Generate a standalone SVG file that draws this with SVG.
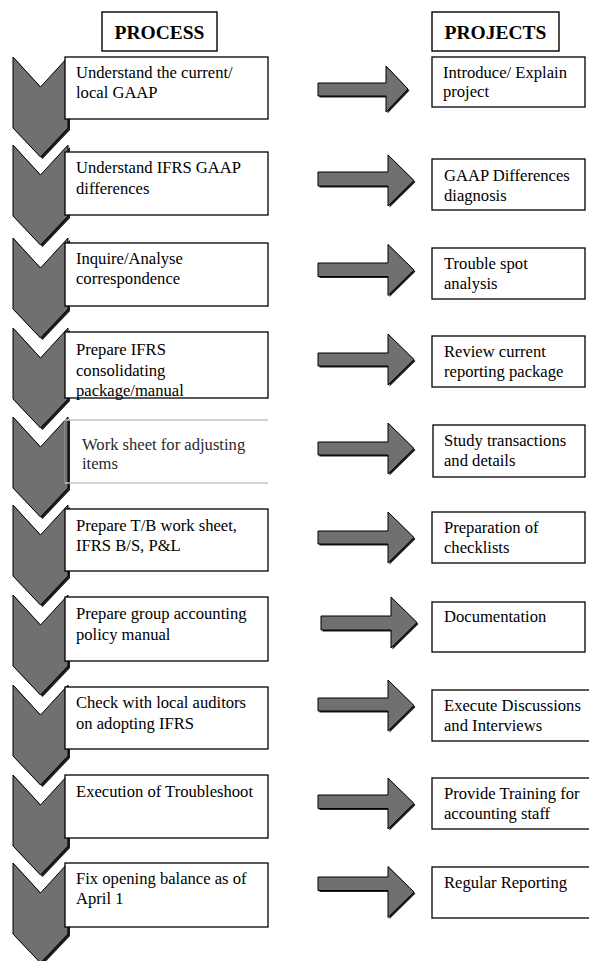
<svg xmlns="http://www.w3.org/2000/svg" width="589" height="961" viewBox="0 0 589 961">
<style>
.bg{fill:#ffffff}
.box{fill:#ffffff;stroke:#000000;stroke-width:1.3}
.hdr{fill:#ffffff;stroke:#000000;stroke-width:1.4}
.t{font-family:"Liberation Serif","Times New Roman",serif;font-size:16.6px;fill:#000000}
.t5{font-family:"Liberation Serif","Times New Roman",serif;font-size:16.6px;fill:#2a2a2a}
.h{font-family:"Liberation Serif","Times New Roman",serif;font-size:19.5px;font-weight:bold;fill:#000000;text-anchor:middle}
.shape{fill:#707070;stroke:#000000;stroke-width:1}
.shadow{fill:#1e1e1e}
.faint{stroke:#c4c4c4;stroke-width:1.3;fill:none}
</style>
<defs>
<path id="chev" d="M13,57 L40.5,87 L68,57 L68,128 L40.5,157 L13,128 Z"/>
</defs>
<rect class="bg" x="0" y="0" width="589" height="961"/>

<g id="header-process">
<rect class="hdr" x="102" y="12" width="115" height="39"/>
<text class="h" x="159.5" y="38.5">PROCESS</text>
</g>
<g id="header-projects">
<rect class="hdr" x="432" y="12" width="127" height="39"/>
<text class="h" x="495.5" y="38.5">PROJECTS</text>
</g>

<g id="chevrons">
<use href="#chev" class="shadow" transform="translate(2,2)"/><use href="#chev" class="shape"/>
<use href="#chev" class="shadow" transform="translate(2,90)"/><use href="#chev" class="shape" transform="translate(0,88)"/>
<use href="#chev" class="shadow" transform="translate(2,183)"/><use href="#chev" class="shape" transform="translate(0,181)"/>
<use href="#chev" class="shadow" transform="translate(2,273)"/><use href="#chev" class="shape" transform="translate(0,271)"/>
<use href="#chev" class="shadow" transform="translate(2,362)"/><use href="#chev" class="shape" transform="translate(0,360)"/>
<use href="#chev" class="shadow" transform="translate(2,450)"/><use href="#chev" class="shape" transform="translate(0,448)"/>
<use href="#chev" class="shadow" transform="translate(2,540)"/><use href="#chev" class="shape" transform="translate(0,538)"/>
<use href="#chev" class="shadow" transform="translate(2,630)"/><use href="#chev" class="shape" transform="translate(0,628)"/>
<use href="#chev" class="shadow" transform="translate(2,720)"/><use href="#chev" class="shape" transform="translate(0,718)"/>
<use href="#chev" class="shadow" transform="translate(2,808)"/><use href="#chev" class="shape" transform="translate(0,806)"/>
</g>

<g id="p1"><rect class="box" x="65" y="57" width="203" height="62"/>
<text class="t" x="76" y="77.5">Understand the current/</text><text class="t" x="76" y="98">local GAAP</text></g>
<g id="p2"><rect class="box" x="65" y="152" width="203" height="63"/>
<text class="t" x="76" y="173">Understand IFRS GAAP</text><text class="t" x="76" y="193.5">differences</text></g>
<g id="p3"><rect class="box" x="65" y="243" width="203" height="63"/>
<text class="t" x="76" y="263.5">Inquire/Analyse</text><text class="t" x="76" y="284">correspondence</text></g>
<g id="p4"><rect class="box" x="65" y="332" width="203" height="66"/>
<text class="t" x="76" y="355">Prepare IFRS</text><text class="t" x="76" y="375.5">consolidating</text><text class="t" x="76" y="396">package/manual</text></g>
<g id="p5">
<line class="faint" x1="65" y1="420" x2="268" y2="420"/>
<line class="faint" x1="65" y1="483" x2="268" y2="483"/>
<line x1="64.5" y1="420" x2="64.5" y2="483" stroke="#8a8a8a" stroke-width="1"/>
<text class="t5" x="82" y="449.5">Work sheet for adjusting</text><text class="t5" x="82" y="468.5">items</text></g>
<g id="p6"><rect class="box" x="65" y="509" width="203" height="62"/>
<text class="t" x="76" y="530.5">Prepare T/B work sheet,</text><text class="t" x="76" y="550.5">IFRS B/S, P&amp;L</text></g>
<g id="p7"><rect class="box" x="65" y="597" width="203" height="64"/>
<text class="t" x="76" y="619">Prepare group accounting</text><text class="t" x="76" y="639.5">policy manual</text></g>
<g id="p8"><rect class="box" x="65" y="687" width="203" height="62"/>
<text class="t" x="76" y="707.5">Check with local auditors</text><text class="t" x="76" y="728.5">on adopting IFRS</text></g>
<g id="p9"><rect class="box" x="65" y="775" width="203" height="63"/>
<text class="t" x="76" y="797">Execution of Troubleshoot</text></g>
<g id="p10"><rect class="box" x="65" y="863" width="203" height="64"/>
<text class="t" x="76" y="883.5">Fix opening balance as of</text><text class="t" x="76" y="904">April 1</text></g>

<g id="connectors">
<path class="shadow" transform="translate(1.5,1.5)" d="M318,83 L386,83 L386,66 L408,89 L386,112 L386,96 L318,96 Z"/>
<path class="shape" d="M318,83 L386,83 L386,66 L408,89 L386,112 L386,96 L318,96 Z"/>
<path class="shadow" transform="translate(1.5,1.5)" d="M318,172 L388,172 L388,155 L414,180.5 L388,206 L388,186 L318,186 Z"/>
<path class="shape" d="M318,172 L388,172 L388,155 L414,180.5 L388,206 L388,186 L318,186 Z"/>
<path class="shadow" transform="translate(1.5,1.5)" d="M318,263 L388,263 L388,244.5 L414,270 L388,295.5 L388,276.5 L318,276.5 Z"/>
<path class="shape" d="M318,263 L388,263 L388,244.5 L414,270 L388,295.5 L388,276.5 L318,276.5 Z"/>
<path class="shadow" transform="translate(1.5,1.5)" d="M318,353 L388,353 L388,334 L414,359.5 L388,385 L388,366 L318,366 Z"/>
<path class="shape" d="M318,353 L388,353 L388,334 L414,359.5 L388,385 L388,366 L318,366 Z"/>
<path class="shadow" transform="translate(1.5,1.5)" d="M318,442 L388,442 L388,423 L414,448.5 L388,474 L388,455 L318,455 Z"/>
<path class="shape" d="M318,442 L388,442 L388,423 L414,448.5 L388,474 L388,455 L318,455 Z"/>
<path class="shadow" transform="translate(1.5,1.5)" d="M318,531 L388,531 L388,512 L414,537.5 L388,563 L388,544 L318,544 Z"/>
<path class="shape" d="M318,531 L388,531 L388,512 L414,537.5 L388,563 L388,544 L318,544 Z"/>
<path class="shadow" transform="translate(1.5,1.5)" d="M321,616 L391,616 L391,597 L417,622.5 L391,648 L391,630 L321,630 Z"/>
<path class="shape" d="M321,616 L391,616 L391,597 L417,622.5 L391,648 L391,630 L321,630 Z"/>
<path class="shadow" transform="translate(1.5,1.5)" d="M318,698 L388,698 L388,680 L414,705.5 L388,731 L388,711 L318,711 Z"/>
<path class="shape" d="M318,698 L388,698 L388,680 L414,705.5 L388,731 L388,711 L318,711 Z"/>
<path class="shadow" transform="translate(1.5,1.5)" d="M318,795 L388,795 L388,778 L414,803.5 L388,829 L388,808.5 L318,808.5 Z"/>
<path class="shape" d="M318,795 L388,795 L388,778 L414,803.5 L388,829 L388,808.5 L318,808.5 Z"/>
<path class="shadow" transform="translate(1.5,1.5)" d="M318,877 L388,877 L388,866.5 L414,892 L388,917.5 L388,890.5 L318,890.5 Z"/>
<path class="shape" d="M318,877 L388,877 L388,866.5 L414,892 L388,917.5 L388,890.5 L318,890.5 Z"/>
</g>

<g id="r1"><rect class="box" x="432" y="57" width="153" height="50"/>
<text class="t" x="443" y="77.5">Introduce/ Explain</text><text class="t" x="443" y="97">project</text></g>
<g id="r2"><rect class="box" x="432" y="159" width="153" height="51"/>
<text class="t" x="444" y="181">GAAP Differences</text><text class="t" x="444" y="201">diagnosis</text></g>
<g id="r3"><rect class="box" x="432" y="248" width="153" height="51"/>
<text class="t" x="444" y="269">Trouble spot</text><text class="t" x="444" y="289">analysis</text></g>
<g id="r4"><rect class="box" x="432" y="336" width="153" height="51"/>
<text class="t" x="444" y="357">Review current</text><text class="t" x="444" y="377">reporting package</text></g>
<g id="r5"><rect class="box" x="433" y="425" width="152" height="52"/>
<text class="t" x="444" y="446">Study transactions</text><text class="t" x="444" y="466">and details</text></g>
<g id="r6"><rect class="box" x="432" y="512" width="153" height="51"/>
<text class="t" x="444" y="533">Preparation of</text><text class="t" x="444" y="553">checklists</text></g>
<g id="r7"><rect class="box" x="432" y="602" width="153" height="50"/>
<text class="t" x="444" y="622">Documentation</text></g>
<g id="r8"><rect class="box" x="432" y="690" width="160" height="51"/>
<text class="t" x="444" y="711">Execute Discussions</text><text class="t" x="444" y="731">and Interviews</text></g>
<g id="r9"><rect class="box" x="432" y="778" width="160" height="51"/>
<text class="t" x="444" y="799">Provide Training for</text><text class="t" x="444" y="819">accounting staff</text></g>
<g id="r10"><rect class="box" x="432" y="867" width="160" height="51"/>
<text class="t" x="444" y="888">Regular Reporting</text></g>
</svg>
